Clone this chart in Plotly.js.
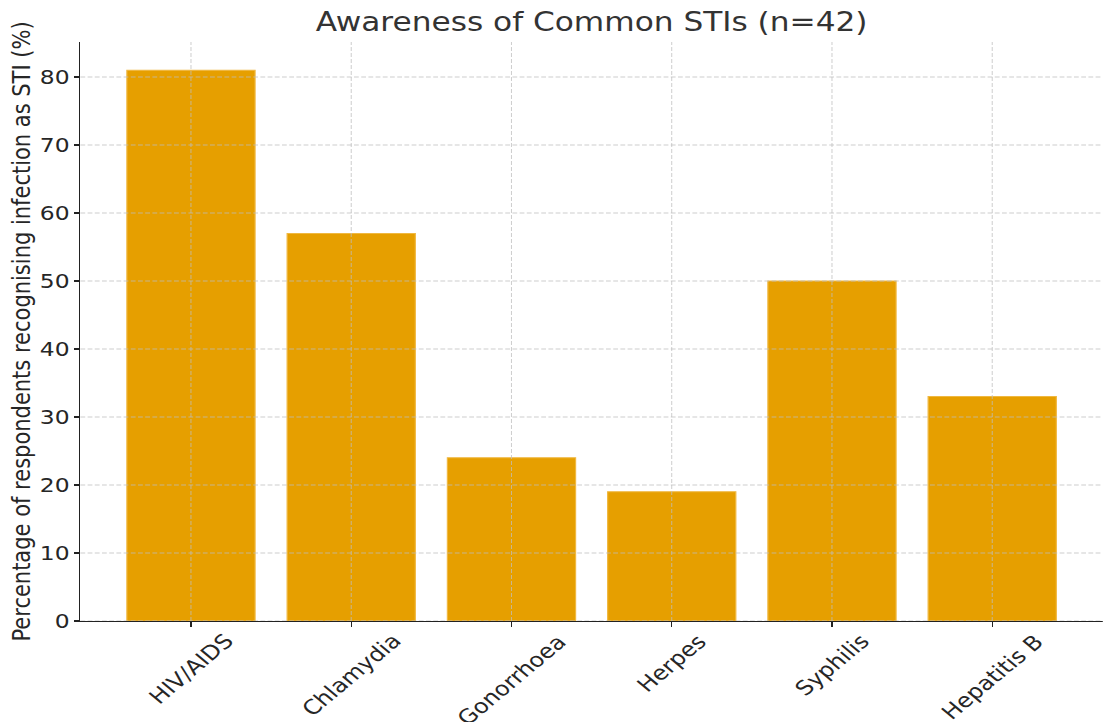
<!DOCTYPE html>
<html>
<head>
<meta charset="utf-8">
<script src="https://cdn.plot.ly/plotly-3.0.1.min.js"></script>
<style>
html,body{margin:0;padding:0;background:#fff;overflow:hidden;width:1103px;height:722px;}
#chart{width:919px;height:722px;transform:scaleX(1.2);transform-origin:0 0;}
</style>
</head>
<body>
<div id="chart"></div>
<script>
const categories = ["HIV/AIDS", "Chlamydia", "Gonorrhoea", "Herpes", "Syphilis", "Hepatitis B"];
const awarenessPct = [81, 57, 24, 19, 50, 33];
const yTicks = [0, 10, 20, 30, 40, 50, 60, 70, 80];

const gridStyle = {color: "rgba(190,190,190,0.75)", width: 1, dash: "4px,2px"};
const shapes = [];
yTicks.forEach(v => shapes.push({type: "line", layer: "above", xref: "paper", x0: 0, x1: 1, yref: "y", y0: v, y1: v, line: gridStyle}));
categories.forEach((c, i) => shapes.push({type: "line", layer: "above", xref: "x", x0: i, x1: i, yref: "paper", y0: 0, y1: 1, line: {color: gridStyle.color, width: 0.85, dash: "4px,2px"}}));

const xLabels = categories.map((c, i) => ({
  x: i, xref: "x", y: 0, yref: "y", text: c, textangle: -45,
  xanchor: "center", yanchor: "top", yshift: -7, showarrow: false,
  font: {size: 20, color: "#262626"}, borderpad: 0
}));

const trace = {
  type: "bar",
  x: categories.map((c, i) => i),
  y: awarenessPct,
  width: 0.8,
  marker: {color: "#E69F00", line: {color: "#F0B840", width: 1}},
  hoverinfo: "x+y"
};

const layout = {
  width: 919, height: 722,
  margin: {l: 67, r: 0, t: 42, b: 101},
  paper_bgcolor: "#fff", plot_bgcolor: "#fff",
  font: {family: "DejaVu Sans, sans-serif", color: "#262626", size: 19.5},
  title: {text: "Awareness of Common STIs (n=42)", font: {size: 26, color: "#333"}, xref: "paper", x: 0.5, xanchor: "center", y: 0.969, yanchor: "middle"},
  showlegend: false,
  xaxis: {
    range: [-0.69, 5.69],
    tickmode: "array", tickvals: categories.map((c, i) => i), showticklabels: false,
    ticks: "outside", ticklen: 5, tickcolor: "#222", tickwidth: 1.2,
    showgrid: false, zeroline: false,
    showline: true, linecolor: "#222", linewidth: 1.3
  },
  yaxis: {
    range: [0, 85.15],
    tickmode: "array", tickvals: yTicks,
    ticks: "outside", ticklen: 4, tickcolor: "#222", tickwidth: 1.2,
    showgrid: false, zeroline: false,
    showline: true, linecolor: "#222", linewidth: 1.1,
    tickfont: {size: 19.5, color: "#262626"},
    title: {text: "Percentage of respondents recognising infection as STI (%)", font: {size: 21, color: "#262626"}, standoff: 1}
  },
  annotations: xLabels,
  shapes: shapes
};

Plotly.newPlot("chart", [trace], layout, {displayModeBar: false, staticPlot: true});
</script>
</body>
</html>
